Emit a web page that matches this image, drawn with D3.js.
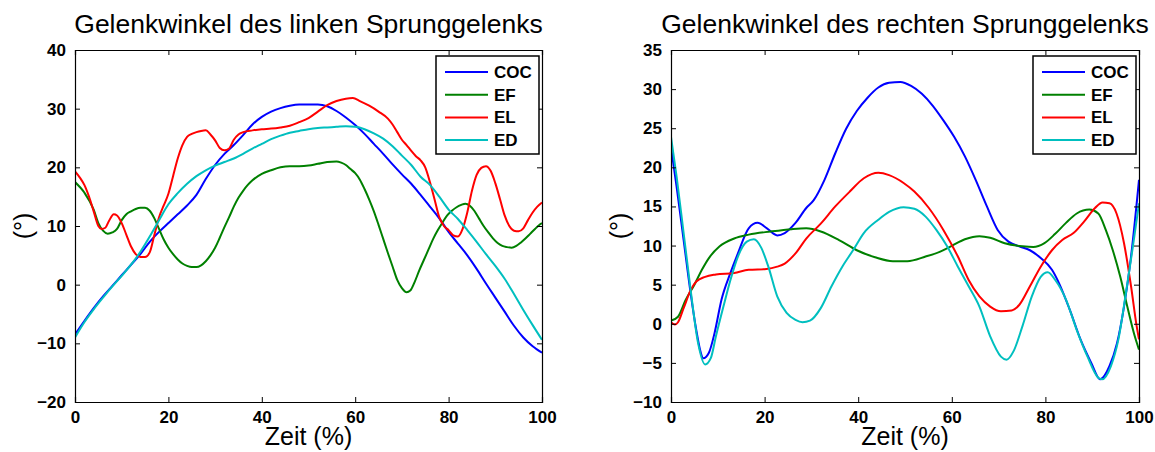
<!DOCTYPE html>
<html>
<head>
<meta charset="utf-8">
<script src="https://cdn.jsdelivr.net/npm/d3@7"></script>
<style>
  body { margin: 0; background: #fff; }
  svg { display: block; font-family: Arial, "Liberation Sans", sans-serif; }
</style>
</head>
<body>
<svg id="chart" width="1155" height="452"></svg>
<script>
// Series names and colours (legend order)
const seriesNames = ["COC", "EF", "EL", "ED"];
const seriesColors = ["#0000ff", "#008000", "#ff0000", "#00bfbf"];

// Ticks
const xTicks = [0, 20, 40, 60, 80, 100];
const leftYTicks = [-20, -10, 0, 10, 20, 30, 40];
const rightYTicks = [-10, -5, 0, 5, 10, 15, 20, 25, 30, 35];

// Left ankle: [Zeit %, angle °]
const leftCOC = [[0,-8.5],[2,-6.2],[4,-4],[6,-2],[8,-0.2],[10,1.6],[12,3.4],[14,5.2],[16,7.3],[18,9],[20,10.5],[22,12],[24,13.5],[26,15.3],[28,18],[30,20.4],[32,22.3],[34,23.8],[36,25.5],[38,27.3],[40,28.6],[42,29.5],[44,30.1],[46,30.5],[48,30.7],[50,30.7],[52,30.7],[54,30.4],[56,29.6],[58,28.5],[60,27.2],[62,25.7],[64,24],[66,22.3],[68,20.5],[70,18.8],[72,17.2],[74,15.3],[76,13.3],[78,11.3],[80,9],[82,7],[84,5],[86,2.7],[88,0.2],[90,-2.2],[92,-4.6],[94,-7],[96,-9],[98,-10.5],[100,-11.6]];
const leftEF = [[0,17.5],[2,15.7],[4,12.8],[5,10.5],[6,9.2],[7,8.7],[8,8.9],[9,9.5],[10,11],[11,12],[12,12.5],[13,12.9],[14,13.1],[15,13.1],[16,12.6],[17,11.3],[18,9.5],[19,7.7],[20,6.3],[21,5.2],[22,4.3],[23,3.6],[24,3.2],[25,3],[26,3],[27,3.3],[28,4],[29,5],[30,6.3],[31,8],[32,9.8],[33,11.5],[34,13.3],[35,14.8],[36,16],[37,17],[38,17.8],[40,18.9],[42,19.5],[44,20],[46,20.2],[48,20.2],[50,20.3],[52,20.6],[54,20.9],[56,21],[57,20.8],[58,20.4],[59,19.7],[60,19],[61,17.9],[62,16.3],[63,14.5],[64,12.5],[65,10.2],[66,7.8],[67,5.4],[68,3.1],[69,0.8],[70,-0.6],[71,-1.3],[71.8,-1],[72.7,0.4],[73.7,2.4],[74.7,4.2],[75.7,6],[76.7,7.8],[77.7,9.3],[78.7,10.6],[79.7,11.8],[80.7,12.6],[81.7,13.2],[82.7,13.6],[83.6,13.8],[84.5,13.5],[85.5,12.6],[86.5,11.3],[87.5,10],[88.5,8.9],[89.5,7.9],[90.5,7.1],[91.5,6.6],[92.5,6.4],[93.5,6.3],[94.5,6.6],[95.5,7.2],[96.5,7.9],[97.5,8.7],[98.5,9.5],[99.3,10.1],[100,10.5]];
const leftEL = [[0,19.3],[1,18.3],[2,17],[3,15],[4,12.5],[5,10],[5.7,9.5],[6.5,9.7],[7.3,10.9],[8.3,12],[9,11.8],[10,10.5],[11,8.5],[12,6.5],[13,5.2],[14,4.7],[15,4.7],[16,5.5],[17,8.5],[18,11.5],[19,13.5],[20,15.5],[21,18.5],[22,21.5],[23,23.8],[24,25.2],[25,25.7],[26,26],[27,26.2],[28,26.3],[29,25.6],[30,24.6],[31,23.3],[32,22.9],[33,23.2],[34,24.7],[35,25.6],[36,26],[38,26.3],[40,26.5],[42,26.6],[44,26.8],[46,27.1],[48,27.7],[50,28.4],[52,29.5],[54,30.6],[56,31.3],[58,31.7],[59.5,31.8],[61,31.3],[63,30.5],[65,29.5],[67,28.3],[68,27.3],[69,26],[70,24.7],[71,23.8],[72,22.8],[73,21.9],[74,21.2],[75,20],[76,17.5],[77,14.5],[78,11.5],[79,10],[80,9.3],[81,8.4],[82,8.2],[83,9.5],[84,12.3],[85,16],[86,18.7],[87,19.9],[88,20.2],[89,19.4],[90,17.3],[91,14.6],[92,11.8],[93,10],[94,9.2],[95,9.1],[96,9.6],[97,11],[98,12.3],[99,13.3],[100,14]];
const leftED = [[0,-9],[2,-6.4],[4,-4.2],[6,-2.2],[8,-0.3],[10,1.5],[12,3.4],[14,5.6],[16,8.2],[18,11],[20,13.7],[22,15.6],[24,17.2],[26,18.5],[28,19.5],[30,20.3],[32,20.9],[34,21.5],[36,22.3],[38,23.2],[40,24],[42,24.8],[44,25.4],[46,25.9],[48,26.2],[50,26.5],[52,26.7],[54,26.8],[56,26.9],[58,27],[60,26.9],[62,26.5],[64,25.8],[66,24.9],[68,23.6],[70,22],[72,20.4],[74,18.4],[76,17],[78,15],[80,12.8],[82,11.2],[84,9.3],[86,7.3],[88,5.2],[90,3.2],[92,1],[94,-1.6],[96,-4.3],[98,-6.9],[100,-9.4]];

// Right ankle: [Zeit %, angle °]
const rightCOC = [[0,22.6],[1.2,17.5],[2.7,10.7],[4.2,3.9],[5.4,-0.8],[6.2,-3.3],[6.9,-4.4],[8.1,-3.7],[9.3,-1.2],[10.8,3.1],[12.7,6.5],[14.3,9],[16.6,12.2],[18.5,12.9],[20.5,12.2],[22.7,11.3],[24.3,11.6],[26.6,12.9],[28.9,14.8],[30.5,15.8],[32.8,18.4],[35.1,21.8],[37.4,24.9],[39.7,27.2],[42,28.9],[44.3,30.2],[46.6,30.8],[49,30.9],[51.3,30.4],[53.6,29.4],[55.9,27.9],[58.2,26],[60.5,23.9],[62.8,21.4],[65.1,18.4],[67.5,15],[69.8,12],[72.1,10.5],[74.4,9.9],[76.7,9.4],[79,8.4],[81.4,6.9],[82.9,5.2],[85.2,1.8],[87.5,-2],[89.8,-5],[91.7,-7.1],[93.7,-5.4],[95.3,-2.5],[96.8,2.2],[98.3,8.6],[100,18.4]];
const rightEF = [[0,0.4],[1.5,0.9],[3.1,3],[5,5],[6.6,6.9],[8.1,8.4],[10.4,9.9],[13.5,10.9],[16.6,11.4],[21.3,11.8],[25.8,12.1],[28.9,12.2],[32,11.8],[35.9,10.7],[39.7,9.4],[43.6,8.5],[47.4,8],[50.5,8],[54.4,8.6],[57.4,9.2],[59.8,9.9],[62.8,10.8],[65.9,11.2],[68.2,11],[71.3,10.3],[75.1,9.9],[77.4,9.8],[79.8,10.3],[82.1,11.5],[84.4,12.9],[86.7,14.1],[89.4,14.6],[91.3,14.1],[92.9,12],[94.4,9.4],[96,6],[97.5,2.2],[99.1,-1.6],[100,-3.3]];
const rightEL = [[0,0.2],[0.8,-0.1],[1.5,0.2],[2.7,2],[4.2,4.3],[5.4,5.4],[7.3,6],[9.6,6.3],[13.5,6.5],[16.6,6.9],[20.4,7],[22.7,7.3],[24.3,7.7],[26.6,9],[28.9,10.9],[32,12.8],[35.1,15],[38.2,16.9],[41.2,18.6],[44.3,19.3],[46.6,19],[49.7,18],[52,16.9],[55.1,14.8],[58.2,12],[61.3,8.6],[63.6,5.6],[65.9,3.5],[68.2,2.2],[70.5,1.6],[72.8,1.7],[74.4,2.4],[76.7,4.8],[79,7.3],[81.4,9.4],[83.6,10.7],[86,11.6],[88.3,13.1],[90.6,14.8],[92.2,15.5],[93.7,15.4],[95.2,14.1],[96.8,10.3],[98.3,4.8],[99.5,-0.3],[100,-2]];
const rightED = [[0,23.9],[1.2,18.8],[2.7,11.6],[4.2,4.3],[5.8,-2.5],[7.3,-5.2],[8.5,-4.4],[9.6,-1.6],[11.2,2.2],[12.7,5.6],[14.3,8.6],[16.2,10.5],[17.7,10.8],[19.3,9.7],[20.8,7.3],[22.7,3.5],[24.7,1.4],[26.6,0.5],[28.1,0.2],[29.7,0.4],[32,2],[34.3,4.8],[36.6,7.3],[38.9,9.4],[41.2,11.6],[44.3,13.3],[46.6,14.3],[49.7,14.9],[52,14.7],[54.4,13.7],[56.7,12],[59,9.9],[61.3,7.3],[63.6,4.8],[65.9,2.2],[68.2,-1.6],[70.5,-4.2],[71.7,-4.6],[73.2,-3.5],[75.1,-0.3],[77.1,3.5],[79,6],[80.5,6.6],[82.1,5.6],[84.4,3.1],[86.7,-0.8],[89,-4.2],[91.3,-6.9],[92.1,-7.1],[94,-5.4],[95.6,-2],[97.2,3.9],[98.7,9.9],[100,15.4]];

const panels = [
  { title: "Gelenkwinkel des linken Sprunggelenks", series: [leftCOC, leftEF, leftEL, leftED],
    yDomain: [-20, 40], yTicks: leftYTicks, left: 75, right: 542 },
  { title: "Gelenkwinkel des rechten Sprunggelenks", series: [rightCOC, rightEF, rightEL, rightED],
    yDomain: [-10, 35], yTicks: rightYTicks, left: 671, right: 1139 }
];
const plotTop = 50, plotBottom = 402;

const svg = d3.select("#chart");

panels.forEach((p, pi) => {
  const x = d3.scaleLinear().domain([0, 100]).range([p.left, p.right]);
  const y = d3.scaleLinear().domain(p.yDomain).range([plotBottom, plotTop]);
  const g = svg.append("g");

  // clip so lines stay in the box
  g.append("clipPath").attr("id", "clip" + pi)
    .append("rect").attr("x", p.left).attr("y", plotTop)
    .attr("width", p.right - p.left).attr("height", plotBottom - plotTop);

  const line = d3.line()
    .x(d => x(d[0]))
    .y(d => y(d[1]))
    .curve(d3.curveMonotoneX);

  g.append("g").attr("clip-path", `url(#clip${pi})`)
    .selectAll("path")
    .data(p.series)
    .enter().append("path")
    .attr("d", line)
    .attr("fill", "none")
    .attr("stroke", (d, i) => seriesColors[i])
    .attr("stroke-width", 2);

  // axes, inward ticks on all four sides
  const tl = 5;
  g.append("g").attr("transform", `translate(0,${plotBottom})`)
    .call(d3.axisBottom(x).tickValues(xTicks).tickSize(-tl).tickPadding(9).tickFormat(d3.format("d")));
  g.append("g").attr("transform", `translate(0,${plotTop})`)
    .call(d3.axisTop(x).tickValues(xTicks).tickSize(-tl).tickFormat(""));
  g.append("g").attr("transform", `translate(${p.left},0)`)
    .call(d3.axisLeft(y).tickValues(p.yTicks).tickSize(-tl).tickPadding(9).tickFormat(d3.format("d")));
  g.append("g").attr("transform", `translate(${p.right},0)`)
    .call(d3.axisRight(y).tickValues(p.yTicks).tickSize(-tl).tickFormat(""));

  g.selectAll(".domain").attr("stroke", "#000").attr("stroke-width", 1.2);
  g.selectAll(".tick line").attr("stroke", "#000");
  g.selectAll(".tick text")
    .attr("fill", "#000")
    .style("font-family", "Arial, 'Liberation Sans', sans-serif")
    .style("font-size", "17px")
    .style("font-weight", "bold");

  const cx = (p.left + p.right) / 2;
  g.append("text").attr("x", cx).attr("y", 33)
    .attr("text-anchor", "middle").style("font-size", "26.5px")
    .text(p.title);
  g.append("text").attr("x", cx).attr("y", 445)
    .attr("text-anchor", "middle").style("font-size", "25px")
    .text("Zeit (%)");
  g.append("text")
    .attr("transform", `translate(${p.left - 43},${(plotTop + plotBottom) / 2}) rotate(-90)`)
    .attr("text-anchor", "middle").style("font-size", "25px")
    .text("(°)");

  // legend
  const lx = p.right - 106, ly = 56;
  const leg = g.append("g");
  leg.append("rect").attr("x", lx).attr("y", ly).attr("width", 103).attr("height", 98)
    .attr("fill", "#fff").attr("stroke", "#000").attr("stroke-width", 1.5);
  const rows = leg.selectAll("g.row")
    .data(seriesNames)
    .enter().append("g").attr("class", "row")
    .attr("transform", (d, i) => `translate(${lx},${ly + 16 + i * 22.7})`);
  rows.append("line")
    .attr("x1", 9).attr("x2", 52)
    .attr("stroke", (d, i) => seriesColors[i]).attr("stroke-width", 2);
  rows.append("text")
    .attr("x", 58).attr("dy", "0.35em")
    .style("font-size", "17px").style("font-weight", "bold")
    .text(d => d);
});
</script>
</body>
</html>
